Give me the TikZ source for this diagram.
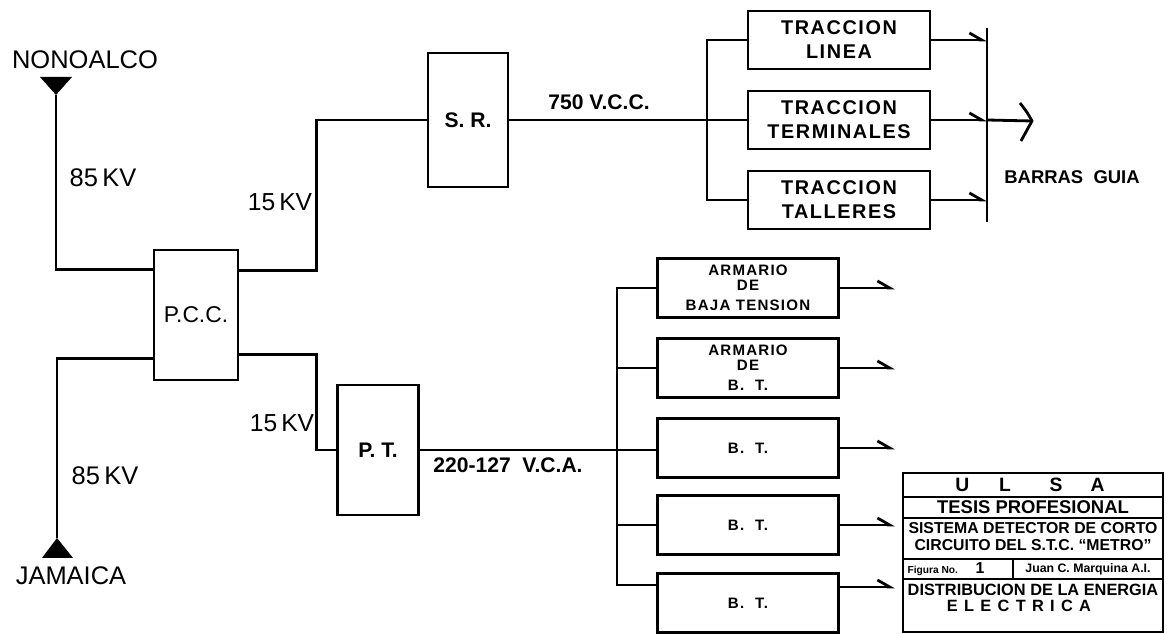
\documentclass[tikz,border=0pt]{standalone}
\usepackage{fontspec}
\setmainfont{Liberation Sans}
\newfontfamily\lsfont{Liberation Sans}[LetterSpace=8]
\usetikzlibrary{arrows.meta,calc}
\newcommand{\mylsp}{\kern3.6pt}
\begin{document}
\begin{tikzpicture}[x=0.02cm,y=-0.02cm, line width=1.6pt,
  box/.style={draw, line width=1.6pt, inner sep=0pt, align=center},
  trac/.style={box, minimum width=3.64cm, minimum height=1.16cm,
    font=\lsfont\bfseries\fontsize{11.3}{13.6}\selectfont},
  lbox/.style={box, minimum width=3.62cm, minimum height=1.18cm,
    font=\lsfont\bfseries\fontsize{8.6}{11}\selectfont},
  harp/.style={-{Straight Barb[harpoon,length=7pt,width=8pt]}},
  lbl/.style={inner sep=0pt, font=\fontsize{14.5}{16}\selectfont},
  blbl/.style={inner sep=0pt, font=\bfseries\fontsize{12}{14}\selectfont},
  tb/.style={draw, line width=1.5pt, inner sep=0pt, minimum width=5.2cm},
  tbt/.style={inner sep=0pt, align=center},
]
\useasboundingbox (0,0) rectangle (1167,634);

% main boxes
\node[box, minimum width=1.68cm, minimum height=2.6cm, font=\fontsize{13}{15}\selectfont] (pcc) at (196,315) {P.C.C.};
\node[box, minimum width=1.6cm, minimum height=2.68cm, font=\bfseries\fontsize{12}{14}\selectfont] (sr) at (468,120) {S. R.};
\node[box, minimum width=1.62cm, minimum height=2.6cm, font=\bfseries\fontsize{12}{14}\selectfont] (pt) at (378,450) {P. T.};

% traction boxes
\node[trac] (tr1) at (839,40) {TRACCION\\LINEA};
\node[trac] (tr2) at (839,120) {TRACCION\\TERMINALES};
\node[trac] (tr3) at (839,200) {TRACCION\\TALLERES};

% low voltage boxes
\node[lbox] (lb1) at (748,288) {ARMARIO\\[-2.4pt]DE\\[0.6pt]BAJA TENSION};
\node[lbox] (lb2) at (748,368) {ARMARIO\\[-2.6pt]DE\\[0.6pt]B.\ \ T.};
\node[lbox] (lb3) at (748,448) {B.\ \ T.};
\node[lbox] (lb4) at (748,525) {B.\ \ T.};
\node[lbox] (lb5) at (748,603) {B.\ \ T.};

% labels
\node[lbl] (nono) at (85,60) {NONOALCO};
\node[lbl] (jam) at (71,576) {JAMAICA};
\node[lbl] (kv1) at (103,178) {85\,KV};
\node[lbl] (kv2) at (105,476) {85\,KV};
\node[lbl, font=\fontsize{14}{16}\selectfont] (kv3) at (280,202) {15\,KV};
\node[lbl, font=\fontsize{14}{16}\selectfont] (kv4) at (282,423) {15\,KV};
\node[blbl] (vcc) at (599,102) {750 V.C.C.};
\node[blbl] (vca) at (508,465) {220-127\ \ V.C.A.};
\node[blbl, font=\bfseries\fontsize{10.5}{12}\selectfont] (barras) at (1072,177) {BARRAS\ \ GUIA};

% sources
\coordinate (nonoTip) at (56,95);
\fill (40,77) -- (72,77) -- (nonoTip) -- cycle;
\coordinate (jamTip) at (57,538);
\fill (42,558) -- (73,558) -- (jamTip) -- cycle;

% PCC connections
\draw (nonoTip) |- ($(pcc.north west)+(0,21)$);
\draw ($(pcc.south west)+(0,-23)$) -| (jamTip);
\draw ($(pcc.north east)+(0,22)$) -- ++(77,0) |- (sr.west);
\draw ($(pcc.south east)+(0,-27)$) -- ++(77,0) |- (pt.west);

% upper bus
\coordinate (ub3) at (707,200);
\draw (sr.east) -- (tr2.west);
\draw (tr1.west) -| (ub3) -- (tr3.west);

% guide bars
\coordinate (barT) at (987,28);
\coordinate (barB) at (987,222);
\draw (barT) -- (barB);
\draw[harp] (tr1.east) -- (tr1.east -| barT);
\draw[harp] (tr2.east) -- (tr2.east -| barT);
\draw[harp] (tr3.east) -- (tr3.east -| barT);
\coordinate (chev) at (1032,121);
\coordinate (chevA) at (1020,103);
\coordinate (chevB) at (1021,141);
\draw (tr2.east -| barT) -- (chev);
\draw (chevA) .. controls (1027,112) .. (chev) .. controls (1027,130) .. (chevB);

% lower bus
\coordinate (lbB) at (617,585);
\draw (pt.east) -- (pt.east -| lb3.west);
\draw (lb1.west) -| (lbB) -- ($(lb5.west)+(0,-18)$);
\draw (lb2.west) -- (lb2.west -| lbB);
\draw (lb4.west) -- (lb4.west -| lbB);

\coordinate (o1) at (895,288);
\coordinate (o2) at (895,368);
\coordinate (o3) at (895,448);
\coordinate (o4) at (895,525);
\coordinate (o5) at (895,587);
\draw[harp] (lb1.east) -- (o1);
\draw[harp] (lb2.east) -- (o2);
\draw[harp] (lb3.east) -- (o3);
\draw[harp] (lb4.east) -- (o4);
\draw[harp] (lb5.east |- o5) -- (o5);

% title block
\node[tb, minimum height=0.48cm] (r1) at (1033,485) {};
\node[tb, minimum height=0.42cm] (r2) at (1033,507.5) {};
\node[tb, minimum height=0.82cm] (r3) at (1033,538.5) {};
\node[tb, minimum width=2.2cm, minimum height=0.4cm] (r4a) at (958,569) {};
\node[tb, minimum width=3.0cm, minimum height=0.4cm] (r4b) at (1088,569) {};
\node[tb, minimum height=1.06cm] (r5) at (1033,605.5) {};

\node[tbt, font=\bfseries\fontsize{11}{12}\selectfont] (ulsa) at (1030,485) {U\hspace{17pt}L\hspace{22pt}S\hspace{16pt}A};
\node[tbt, font=\bfseries\fontsize{10.5}{12}\selectfont] (tesis) at (1033,507.5) {TESIS PROFESIONAL};
\node[tbt, font=\bfseries\fontsize{9}{9.7}\selectfont] (sist) at (1033,537) {SISTEMA DETECTOR DE CORTO\\CIRCUITO DEL S.T.C. “METRO”};
\node[tbt, font=\bfseries\fontsize{5.8}{7}\selectfont] (fig) at (946,569) {Figura No.\hspace{10pt}{\fontsize{9}{9}\selectfont 1}};
\node[tbt, font=\bfseries\fontsize{7}{8}\selectfont] (juan) at (1088,569) {Juan C. Marquina A.I.};
\node[tbt, font=\bfseries\fontsize{9.3}{8.8}\selectfont] (dist) at (1033,598) {DISTRIBUCION DE LA ENERGIA\\E\mylsp L\mylsp E\mylsp C\mylsp T\mylsp R\mylsp I\mylsp C\mylsp A\hspace*{16pt}};
\end{tikzpicture}
\end{document}
